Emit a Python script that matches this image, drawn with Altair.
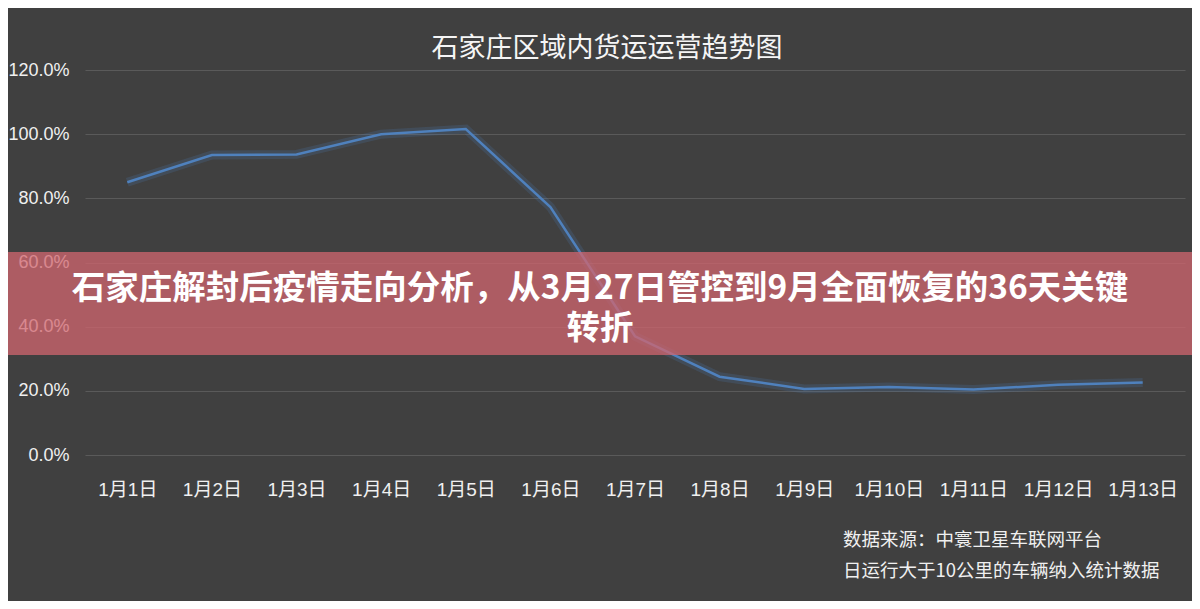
import altair as alt
import pandas as pd

dates = ["1月1日", "1月2日", "1月3日", "1月4日", "1月5日", "1月6日", "1月7日",
         "1月8日", "1月9日", "1月10日", "1月11日", "1月12日", "1月13日"]
values = [0.850, 0.935, 0.937, 1.000, 1.016, 0.773, 0.370,
          0.244, 0.206, 0.212, 0.204, 0.219, 0.226]
y_ticks = [0.0, 0.2, 0.4, 0.6, 0.8, 1.0, 1.2]

chart_title = "石家庄区域内货运运营趋势图"
source_lines = ["数据来源：中寰卫星车联网平台", "日运行大于10公里的车辆纳入统计数据"]
banner_lines = ["石家庄解封后疫情走向分析，从3月27日管控到9月全面恢复的36天关键", "转折"]

df = pd.DataFrame({"date": dates, "value": values})

FONT = "Liberation Sans, Noto Sans CJK SC, sans-serif"
CJK = "Noto Sans CJK SC, sans-serif"

x_enc = alt.X("date:N", sort=dates, title=None,
              scale=alt.Scale(type="point", padding=0.5),
              axis=alt.Axis(labelAngle=0, ticks=False, domain=False, grid=False,
                            labelPadding=25, labelFontSize=19, labelColor="#f0f0f0",
                            labelFont=FONT))
y_enc = alt.Y("value:Q", title=None,
              scale=alt.Scale(domain=[0, 1.2], nice=False),
              axis=alt.Axis(values=y_ticks, format=".1%", ticks=False, domain=False,
                            grid=True, gridColor="#5a5a5a", gridWidth=1,
                            labelPadding=16, labelFontSize=18, labelColor="#f0f0f0",
                            labelFont=FONT))

base = alt.Chart(df)
glow = base.mark_line(color="#4f86c6", strokeWidth=9, opacity=0.18).encode(x=x_enc, y=y_enc)
line = base.mark_line(color="#4f81bd", strokeWidth=2.5).encode(x=x_enc, y=y_enc)

one = pd.DataFrame({"a": [0]})


def text_layer(txt, x, y, size, align, weight="normal"):
    return alt.Chart(one).mark_text(
        text=txt, align=align, baseline="middle", fontSize=size,
        fontWeight=weight, color="#ffffff" if weight == "bold" else "#f0f0f0", font=CJK
    ).encode(x=alt.value(x), y=alt.value(y))


src1 = text_layer(source_lines[0], 758, 470, 18.5, "left")
src2 = text_layer(source_lines[1], 758, 501, 18.5, "left")

banner = alt.Chart(one).mark_rect(
    color="#d1656f", opacity=0.75
).encode(x=alt.value(-77), x2=alt.value(1107), y=alt.value(182), y2=alt.value(285))

ban1 = text_layer(banner_lines[0], 515, 219, 33.5, "center", "bold")
ban2 = text_layer(banner_lines[1], 515, 259, 33.5, "center", "bold")

chart = alt.layer(glow, line, src1, src2, banner, ban1, ban2).properties(
    width=1100, height=385,
    autosize="none",
    padding={"left": 77, "top": 62, "right": 7, "bottom": 146},
    background="#404040",
    title=alt.TitleParams(chart_title, fontSize=27, fontWeight="normal",
                          color="#f5f5f5", font=CJK, anchor="middle", dx=-28,
                          offset=-2),
).configure_view(stroke=None)

chart.save("out.html", embed_options={"renderer": "svg", "actions": False})
